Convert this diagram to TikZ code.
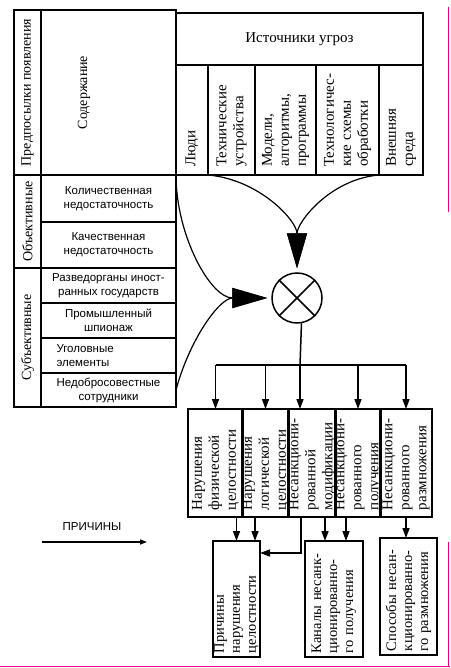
\documentclass[tikz,border=0pt]{standalone}
\usepackage{fontspec}
\setmainfont{Liberation Serif}
\setsansfont{Liberation Sans}
\usetikzlibrary{arrows.meta}
\newcommand\vf{\fontsize{15}{17}\selectfont}
\newcommand\lf{\fontsize{14}{16.5}\selectfont}
\newcommand\pf{\fontsize{14.5}{16}\selectfont}
\newcommand\hf{\fontsize{11.5}{14}\selectfont\sffamily}

\begin{document}
\begin{tikzpicture}[x=1pt,y=1pt,
    cell/.style={draw,rectangle,inner sep=0pt,outer sep=0pt,line width=1.2pt,align=center},
    heavy/.style={line width=1.8pt},
    sz/.style 2 args={minimum width=#1,minimum height=#2},
    vcell/.style n args={3}{cell,rotate=90,align=left,minimum width=#1,minimum height=#2,text width=#3,font=\vf},
    row/.style={cell,minimum width=135pt,font=\hf},
    big/.style={line width=1.2pt,-{Triangle[length=35pt,width=20pt]},shorten >=4pt},
    arr/.style={line width=1.5pt,-{Triangle[length=10pt,width=7pt]}}]
    \useasboundingbox (0,0) rectangle (450,-668);

    \node[cell,heavy,rotate=90,sz={165pt}{27pt},font=\lf] (pre) at (27.5,-92.5) {Предпосылки появления};
    \node[cell,heavy,sz={135pt}{165pt}] (sod) at (108.5,-92.5) {};
    \node[rotate=90,font=\lf] (sodt) at (84,-92.5) {Содержание};
    \node[cell,heavy,rotate=90,sz={93pt}{27pt},font=\lf] (obj) at (27.5,-221.5) {Объективные};
    \node[cell,heavy,rotate=90,sz={139pt}{27pt},font=\lf] (sub) at (27.5,-337.5) {Субъективные};
    \node[row,minimum height=47pt] (r1) at (108.5,-198.5) {Количественная\\недостаточность};
    \node[row,minimum height=46pt] (r2) at (108.5,-245) {Качественная\\недостаточность};
    \node[row,minimum height=35pt] (r3) at (108.5,-285.5) {Разведорганы иност-\\ранных государств};
    \node[row,minimum height=35pt] (r4) at (108.5,-320.5) {Промышленный\\шпионаж};
    \node[row,minimum height=35pt,align=left,text width=104pt] (r5) at (108.5,-355.5) {Уголовные\\элементы};
    \node[row,minimum height=34pt] (r6) at (108.5,-390) {Недобросовестные\\сотрудники};

    \node[cell,heavy,sz={247pt}{52pt},font=\vf] (src) at (299.5,-39) {Источники угроз};
    \node[vcell={110pt}{32pt}{94pt},heavy] (s1) at (192,-120) {Люди};
    \node[vcell={110pt}{47pt}{94pt},heavy] (s2) at (231.5,-120) {Технические\\устройства};
    \node[vcell={110pt}{61pt}{94pt},heavy] (s3) at (285.5,-120) {Модели,\\алгоритмы,\\программы};
    \node[vcell={110pt}{63pt}{94pt},heavy] (s4) at (347.5,-120) {Технологичес-\\кие схемы\\обработки};
    \node[vcell={110pt}{44pt}{94pt},heavy] (s5) at (401,-120) {Внешняя\\среда};

    \node[draw,circle,line width=1.5pt,minimum size=50pt,inner sep=0pt] (circ) at (297,-298) {};
    \draw[line width=1.5pt] (circ.45) -- (circ.225) (circ.135) -- (circ.-45);

    \node[vcell={108pt}{55pt}{94pt},line width=1.5pt] (m1) at (215.5,-463) {Нарушения\\физической\\целостности};
    \node[vcell={108pt}{45pt}{94pt},line width=1.5pt] (m2) at (265.5,-463) {Нарушения\\логической\\целостности};
    \node[vcell={108pt}{48pt}{94pt},heavy] (m3) at (312,-463) {Несанкциони-\\рованной\\модификации};
    \node[vcell={108pt}{44pt}{94pt},heavy] (m4) at (358,-463) {Несанкциони-\\рованного\\получения};
    \node[vcell={108pt}{52pt}{94pt},line width=1.5pt] (m5) at (406,-463) {Несанкциони-\\рованного\\размножения};

    \node[vcell={116pt}{47pt}{108pt},line width=1.5pt,font=\pf] (pr) at (236.5,-599) {Причины\\нарушения\\целостности};
    \node[vcell={116pt}{58pt}{108pt},line width=1.5pt,font=\pf] (kn) at (334,-599) {Каналы несанк-\\ционированно-\\го получения};
    \node[vcell={117pt}{57pt}{109pt},line width=1.5pt,font=\pf] (sp) at (408.5,-596.5) {Способы несан-\\кционированно-\\го размножения};

    \node[font=\hf] (lg) at (92,-527) {ПРИЧИНЫ};
    \coordinate (la) at (42,-542);
    \coordinate (lb) at (147,-542);
    \draw[line width=1.3pt,-{Triangle[length=7pt,width=5pt]}] (la) -- (lb);

    \draw[big] (s1.south west) to[out=-5,in=90] (circ.north);
    \draw[big] (s5.north west) to[out=185,in=90] (circ.north);
    \draw[big] (r1.north east) to[out=-90,in=180] (circ.west);
    \draw[big] (r6.east) to[out=75,in=180] (circ.west);

    \coordinate (bus) at (300,-365);
    \draw[line width=1.5pt] (circ.-80) -- (bus);
    \draw[line width=1.5pt] (bus -| m1) -- (bus -| m5);
    \foreach \m in {m1,m2,m4,m5}
        \draw[arr] (bus -| \m) -- (\m.east);
    \draw[arr] (bus) -- (bus |- m3.east);

    \coordinate (t2) at ([xshift=-10.5pt]m2.west);
    \coordinate (t3) at ([xshift=-11pt]m3.west);
    \coordinate (t3e) at ([yshift=46pt]pr.south);
    \coordinate (t4) at ([xshift=13pt]m3.west);
    \coordinate (t5) at ([xshift=-12pt]m4.west);
    \draw[arr] (m1.west -| pr) -- (pr.east);
    \draw[arr] (t2) -- (t2 |- pr.east);
    \draw[arr] (t3) |- (t3e);
    \draw[arr] (t4) -- (t4 |- kn.east);
    \draw[arr] (t5) -- (t5 |- kn.east);
    \draw[arr] (m5.west) -- (m5.west |- sp.east);

    \draw[magenta,line width=1pt] (448,-7) -- (448,-212) (448,-542) -- (448,-666) (0,-666) -- (450,-666);
\end{tikzpicture}
\end{document}
